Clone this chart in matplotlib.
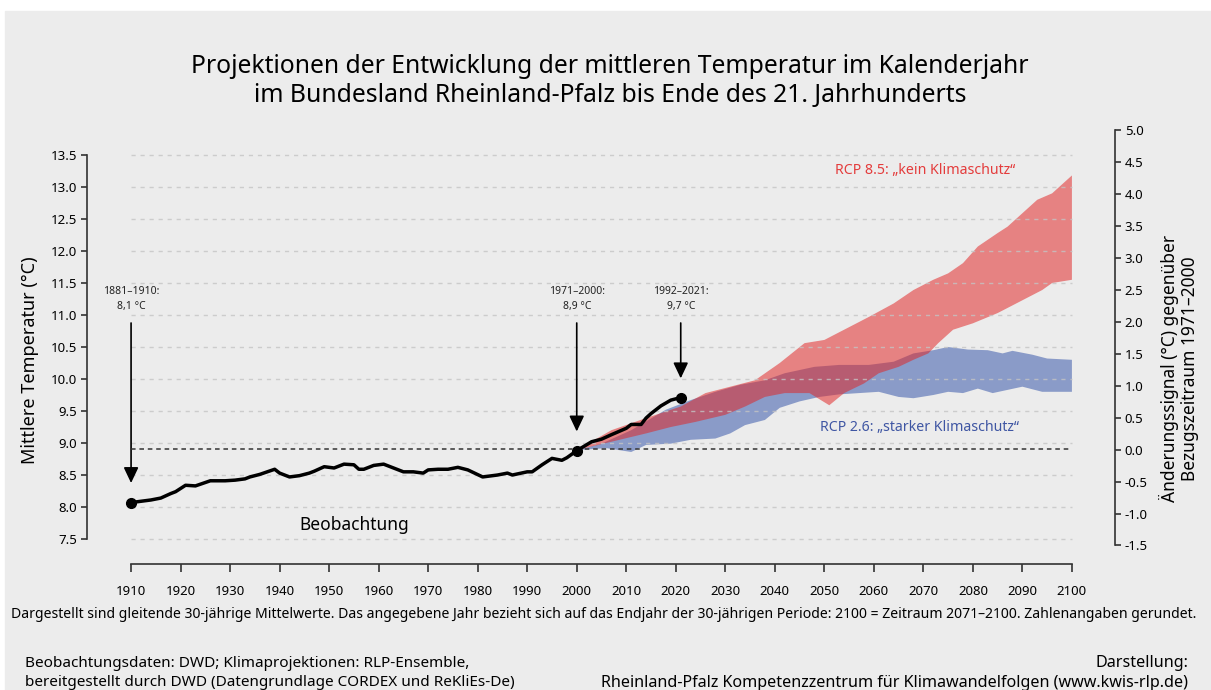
import matplotlib
matplotlib.use("Agg")
import matplotlib.pyplot as plt
from matplotlib.patches import Rectangle

plt.rcParams['font.family'] = ['Noto Sans', 'DejaVu Sans']
plt.rcParams['axes.unicode_minus'] = False

# Beobachtung: gleitende 30-jaehrige Mittelwerte (Endjahr)
obs_year = [1910, 1914, 1916, 1918, 1919, 1921, 1923, 1926, 1929, 1931, 1933, 1934,
            1936, 1939, 1940, 1942, 1944, 1946, 1947, 1949, 1951, 1953, 1955, 1956,
            1957, 1959, 1961, 1963, 1965, 1967, 1969, 1970, 1972, 1974, 1976, 1978,
            1981, 1984, 1986, 1987, 1990, 1991, 1993, 1995, 1997, 1998, 2000, 2003,
            2005, 2007, 2010, 2011, 2013, 2014, 2015, 2017, 2019, 2021]
obs_temp = [8.07, 8.11, 8.14, 8.21, 8.24, 8.34, 8.33, 8.41, 8.41, 8.42, 8.44, 8.47,
            8.51, 8.59, 8.53, 8.47, 8.49, 8.53, 8.56, 8.63, 8.61, 8.67, 8.66, 8.59,
            8.59, 8.65, 8.67, 8.61, 8.55, 8.55, 8.53, 8.58, 8.59, 8.59, 8.62, 8.58,
            8.47, 8.50, 8.53, 8.50, 8.55, 8.55, 8.66, 8.76, 8.73, 8.77, 8.88, 9.02,
            9.06, 9.13, 9.23, 9.29, 9.29, 9.39, 9.46, 9.58, 9.67, 9.71]

# RCP 8.5 Bandbreite
rcp85_up_year = [2000, 2007, 2014, 2021, 2026, 2031, 2036, 2041, 2046, 2050, 2054, 2059,
                 2064, 2068, 2072, 2075, 2078, 2081, 2085, 2087, 2090, 2093, 2096, 2100]
rcp85_up = [8.89, 9.20, 9.39, 9.57, 9.78, 9.88, 9.98, 10.25, 10.56, 10.61, 10.77, 10.97,
            11.18, 11.39, 11.55, 11.65, 11.81, 12.07, 12.28, 12.38, 12.59, 12.80, 12.90, 13.18]
rcp85_lo_year = [2000, 2007, 2014, 2019, 2024, 2030, 2034, 2038, 2042, 2047, 2051, 2054,
                 2058, 2061, 2065, 2068, 2071, 2073, 2076, 2080, 2085, 2090, 2094, 2096, 2100]
rcp85_lo = [8.89, 9.02, 9.15, 9.25, 9.33, 9.44, 9.57, 9.72, 9.78, 9.78, 9.59, 9.78,
            9.93, 10.09, 10.19, 10.30, 10.40, 10.56, 10.77, 10.87, 11.03, 11.23, 11.39, 11.50, 11.55]

# RCP 2.6 Bandbreite
rcp26_up_year = [2000, 2005, 2011, 2018, 2023, 2028, 2033, 2038, 2042, 2048, 2053, 2059,
                 2064, 2068, 2072, 2075, 2079, 2083, 2086, 2088, 2092, 2095, 2100]
rcp26_up = [8.89, 8.99, 9.20, 9.52, 9.67, 9.80, 9.91, 9.98, 10.09, 10.19, 10.22, 10.22,
            10.27, 10.40, 10.45, 10.50, 10.46, 10.45, 10.40, 10.44, 10.38, 10.32, 10.30]
rcp26_lo_year = [2000, 2006, 2011, 2014, 2019, 2023, 2028, 2031, 2034, 2038, 2041, 2045,
                 2049, 2053, 2057, 2061, 2065, 2068, 2072, 2075, 2078, 2081, 2084, 2087,
                 2090, 2094, 2100]
rcp26_lo = [8.89, 8.92, 8.86, 8.97, 8.99, 9.05, 9.07, 9.15, 9.28, 9.36, 9.55, 9.65,
            9.72, 9.76, 9.78, 9.80, 9.72, 9.70, 9.75, 9.80, 9.78, 9.85, 9.78, 9.83,
            9.88, 9.80, 9.80]

ref = 8.9  # Bezugszeitraum 1971-2000
marks = [(1910, 8.07, 8.375, '1881–1910:\n8,1 °C'),
         (2000, 8.88, 9.18, '1971–2000:\n8,9 °C'),
         (2021, 9.71, 10.01, '1992–2021:\n9,7 °C')]

W, H = 1211, 690
fig = plt.figure(figsize=(W / 100, H / 100), dpi=100, facecolor='white')
bg = '#ececec'
fig.patches.append(Rectangle((5 / W, 0), 1, (H - 11) / H, transform=fig.transFigure,
                             color=bg, zorder=-10))

ax = fig.add_axes([87 / W, 126 / H, (1115 - 87) / W, (564 - 130) / H])
ax.set_facecolor('none')
ax.set_xlim(1901.1, 2108.7)
ax.set_ylim(7.11, 13.89)

# Baender
ax.fill(rcp26_up_year + rcp26_lo_year[::-1], rcp26_up + rcp26_lo[::-1],
        color='#8a9bc8', lw=0, zorder=1)
ax.fill(rcp85_up_year + rcp85_lo_year[::-1], rcp85_up + rcp85_lo[::-1],
        color='#e12424', alpha=0.53, lw=0, zorder=2)

# Gitterlinien
for v in [7.5 + 0.5 * i for i in range(13)]:
    ax.plot([1910, 2100], [v, v], color='#c4c4c4', lw=1, ls=(0, (3, 3.5)),
            alpha=0.8, zorder=3)
ax.plot([1910, 2100], [ref, ref], color='#333333', lw=1.1, ls=(0, (3, 2.5)), zorder=4)

# Beobachtung
ax.plot(obs_year, obs_temp, color='black', lw=2.5, zorder=5, solid_joinstyle='round')
for yr, val, tip, lab in marks:
    ax.plot(yr, val, 'o', color='black', ms=7, zorder=6)
    ax.annotate('', xy=(yr, tip), xytext=(yr, 10.875),
                arrowprops=dict(arrowstyle='-|>,head_length=0.95,head_width=0.45',
                                color='black', lw=1.2, shrinkA=0, shrinkB=0))
    ax.text(yr, 11.25, lab, ha='center', va='center', fontsize=7.5,
            linespacing=1.45, color='#222222')

ax.text(1955, 7.72, 'Beobachtung', ha='center', va='center', fontsize=12.5)
ax.text(2070.3, 13.25, 'RCP 8.5: „kein Klimaschutz“', ha='center', va='center',
        fontsize=10.2, color='#e43c3c')
ax.text(2069.3, 9.25, 'RCP 2.6: „starker Klimaschutz“', ha='center', va='center',
        fontsize=10.2, color='#3f56a3')

# Achsen
for s in ['top', 'right']:
    ax.spines[s].set_visible(False)
ax.spines['left'].set_bounds(7.5, 13.5)
ax.spines['bottom'].set_bounds(1910, 2100)
for s in ['left', 'bottom']:
    ax.spines[s].set_color('#333333')
    ax.spines[s].set_linewidth(1.2)
ax.set_yticks([7.5 + 0.5 * i for i in range(13)])
ax.set_yticklabels(['%.1f' % (7.5 + 0.5 * i) for i in range(13)])
ax.set_xticks(range(1910, 2101, 10))
ax.tick_params(axis='y', length=4, width=1.2, color='#333333', labelsize=9.5, pad=3)
ax.tick_params(axis='x', length=6, width=1.2, color='#333333', labelsize=9.5, pad=9)
ax.set_ylabel('Mittlere Temperatur (°C)', fontsize=13)
ax.yaxis.set_label_coords(-0.047, 0.47)

ax2 = ax.twinx()
ax2.set_ylim(7.11 - ref, 13.89 - ref)
for s in ['top', 'left', 'bottom']:
    ax2.spines[s].set_visible(False)
ax2.spines['right'].set_bounds(-1.5, 5.0)
ax2.spines['right'].set_color('#333333')
ax2.spines['right'].set_linewidth(1.2)
ax2.set_yticks([-1.5 + 0.5 * i for i in range(14)])
ax2.set_yticklabels(['%.1f' % (-1.5 + 0.5 * i) for i in range(14)])
ax2.tick_params(axis='y', length=4, width=1.2, color='#333333', labelsize=9.5, pad=3)
ax2.set_ylabel('Änderungssignal (°C) gegenüber\nBezugszeitraum 1971–2000', fontsize=12.5,
               rotation=90, linespacing=1.1)
ax2.yaxis.set_label_coords(1.043, 0.45)

# Titel und Fusszeilen
fig.text(610 / W, 1 - 81 / H, 'Projektionen der Entwicklung der mittleren Temperatur im Kalenderjahr\n'
         'im Bundesland Rheinland-Pfalz bis Ende des 21. Jahrhunderts',
         ha='center', va='center', fontsize=17.8, linespacing=1.2)
fig.text(604 / W, 1 - 614 / H, 'Dargestellt sind gleitende 30-jährige Mittelwerte. Das angegebene Jahr '
         'bezieht sich auf das Endjahr der 30-jährigen Periode: 2100 = Zeitraum 2071–2100. '
         'Zahlenangaben gerundet.', ha='center', va='center', fontsize=10.1)
fig.text(25 / W, 1 - 673 / H, 'Beobachtungsdaten: DWD; Klimaprojektionen: RLP-Ensemble,\n'
         'bereitgestellt durch DWD (Datengrundlage CORDEX und ReKliEs-De)',
         ha='left', va='center', fontsize=11, linespacing=1.35)
fig.text(1188 / W, 1 - 673 / H, 'Darstellung:\n'
         'Rheinland-Pfalz Kompetenzzentrum für Klimawandelfolgen (www.kwis-rlp.de)',
         ha='right', va='center', fontsize=11.6, linespacing=1.3, multialignment='right')

fig.savefig('out.png', dpi=100, facecolor='white')
